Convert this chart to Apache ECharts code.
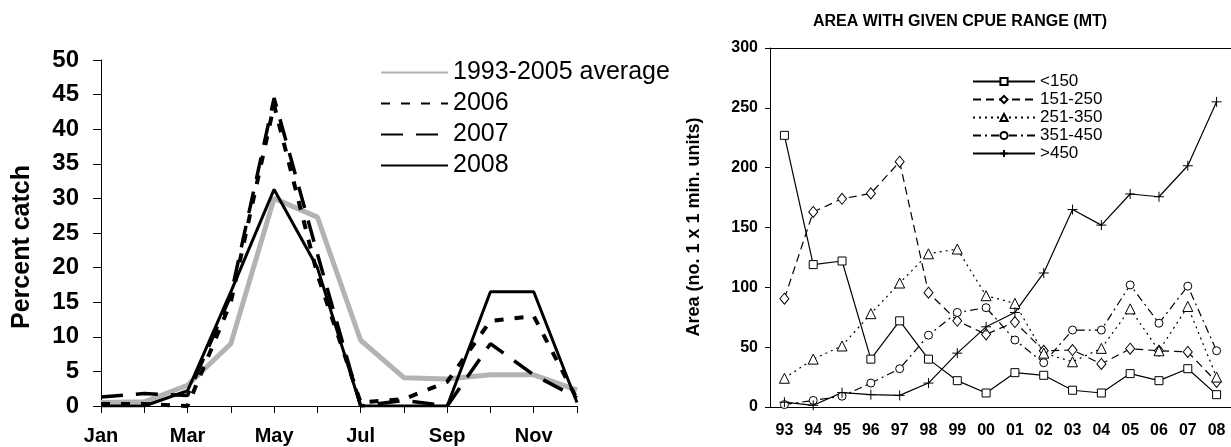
<!DOCTYPE html>
<html>
<head>
<meta charset="utf-8">
<script src="https://cdn.jsdelivr.net/npm/echarts@6/dist/echarts.min.js"></script>
<style>
  html, body { margin: 0; padding: 0; background: #fff; }
  #chart { width: 1231px; height: 447px; }
</style>
</head>
<body>
<div id="chart"></div>
<script>
// left panel: monthly percent catch
const months = ['Jan', 'Feb', 'Mar', 'Apr', 'May', 'Jun', 'Jul', 'Aug', 'Sep', 'Oct', 'Nov', 'Dec']
const avg9305 = [0.5, 0.6, 3.0, 9.0, 30.0, 27.3, 9.5, 4.1, 3.9, 4.5, 4.5, 2.3]
const y2006 = [0.3, 0.3, 0, 15, 43.5, 19, 0.5, 1.0, 3.5, 12.3, 13, 1.0]
const y2007 = [1.3, 1.8, 1.5, 16, 44.5, 22, 0, 0.8, 0, 9, 4.5, 1.2]
const y2008 = [0, 0, 2.2, 16.5, 31.3, 20, 0, 0, 0, 16.5, 16.5, 0.5]

// right panel: area with given CPUE range
const years = ['93', '94', '95', '96', '97', '98', '99', '00', '01', '02', '03', '04', '05', '06', '07', '08']
const lt150 = [227, 119, 122, 40, 72, 40, 22, 11.7, 28.7, 26.5, 14, 11.7, 27.9, 22, 32, 10.3]
const r151 = [90.5, 163, 174, 178.5, 205, 95.5, 72, 60.7, 71, 47, 47.6, 36, 48.7, 47, 46, 21]
const r251 = [24, 40, 51, 78, 103.6, 128, 132, 93, 86.6, 45, 37.8, 49, 82, 47, 84, 25]
const r351 = [2, 5.5, 9, 20, 32, 60, 79, 83, 56, 37, 64.3, 64.3, 102, 70, 101, 47]
const gt450 = [4, 1.4, 12, 10.3, 9.7, 20, 45, 67, 79, 112, 165, 152, 178, 175.7, 201.6, 255]

const FONT = 'Liberation Sans, Arial, sans-serif'
const plusPath = 'path://M5,0L5,10M0,5L10,5'

const chart = echarts.init(document.getElementById('chart'), null, { renderer: 'canvas' })

// helper for right panel series
function cpueSeries(name, data, symbol, size, dash) {
  return {
    name: name,
    type: 'line',
    xAxisIndex: 1,
    yAxisIndex: 1,
    data: data,
    symbol: symbol,
    symbolSize: size,
    showAllSymbol: true,
    lineStyle: { color: '#000', width: 1.2, type: dash },
    itemStyle: { color: '#fff', borderColor: '#000', borderWidth: 1 },
    emphasis: { disabled: true },
    z: 3
  }
}

const option = {
  animation: false,
  backgroundColor: '#fff',
  title: {
    text: 'AREA WITH GIVEN CPUE RANGE (MT)',
    left: 955,
    textAlign: 'center',
    top: 9,
    textStyle: { fontFamily: FONT, fontSize: 16, fontWeight: 'bold', color: '#000' }
  },
  graphic: [
    {
      type: 'text',
      x: 22,
      y: 247,
      rotation: Math.PI / 2,
      style: {
        text: 'Percent catch',
        font: 'bold 25px ' + FONT,
        fill: '#000',
        align: 'center',
        verticalAlign: 'middle'
      }
    },
    {
      type: 'text',
      x: 694,
      y: 227,
      rotation: Math.PI / 2,
      style: {
        text: 'Area (no. 1 x 1 min. units)',
        font: 'bold 18px ' + FONT,
        fill: '#000',
        align: 'center',
        verticalAlign: 'middle'
      }
    }
  ],
  legend: [
    {
      left: 380,
      top: 60,
      padding: 0,
      orient: 'vertical',
      itemWidth: 67,
      itemHeight: 14,
      itemGap: 6,
      itemStyle: { opacity: 0 },
      textStyle: { fontFamily: FONT, fontSize: 25, color: '#000' },
      data: ['1993-2005 average', '2006', '2007', '2008']
    },
    {
      left: 972,
      top: 73,
      padding: 0,
      orient: 'vertical',
      itemWidth: 62,
      itemHeight: 9,
      itemGap: 1,
      textStyle: { fontFamily: FONT, fontSize: 17, color: '#000' },
      data: ['<150', '151-250', '251-350', '351-450', '>450']
    }
  ],
  grid: [
    { left: 101, top: 60, right: 654, bottom: 41 },
    { left: 770, top: 48, right: -2, bottom: 40 }
  ],
  xAxis: [
    {
      gridIndex: 0,
      type: 'category',
      data: months,
      boundaryGap: false,
      axisLine: { lineStyle: { color: '#000', width: 1 } },
      axisTick: { interval: 0, length: 7, lineStyle: { color: '#000' } },
      axisLabel: { interval: 1, margin: 20, fontFamily: FONT, fontSize: 20, fontWeight: 'bold', color: '#000' },
      splitLine: { show: false }
    },
    {
      gridIndex: 1,
      type: 'category',
      data: years,
      boundaryGap: true,
      axisLine: { lineStyle: { color: '#000', width: 1 } },
      axisTick: { interval: 0, length: 5, lineStyle: { color: '#000' } },
      axisLabel: { interval: 0, margin: 16, fontFamily: FONT, fontSize: 16, fontWeight: 'bold', color: '#000' },
      splitLine: { show: false }
    },
    {
      // top border of the right plot
      gridIndex: 1,
      type: 'category',
      data: years,
      position: 'top',
      axisLine: { lineStyle: { color: '#000', width: 1 } },
      axisTick: { show: false },
      axisLabel: { show: false }
    }
  ],
  yAxis: [
    {
      gridIndex: 0,
      type: 'value',
      min: 0,
      max: 50,
      interval: 5,
      axisLine: { show: true, lineStyle: { color: '#000', width: 1 } },
      axisTick: { show: true, length: 8, lineStyle: { color: '#000' } },
      axisLabel: { margin: 22, fontFamily: FONT, fontSize: 24, fontWeight: 'bold', color: '#000' },
      splitLine: { show: false }
    },
    {
      gridIndex: 1,
      type: 'value',
      min: 0,
      max: 300,
      interval: 50,
      axisLine: { show: true, lineStyle: { color: '#000', width: 1 } },
      axisTick: { show: true, length: 5, lineStyle: { color: '#000' } },
      axisLabel: { margin: 12, fontFamily: FONT, fontSize: 16, fontWeight: 'bold', color: '#000' },
      splitLine: { show: false }
    }
  ],
  series: [
    {
      name: '1993-2005 average',
      type: 'line',
      data: avg9305,
      symbol: 'none',
      lineStyle: { color: '#b3b3b3', width: 5 },
      itemStyle: { color: '#b3b3b3' },
      emphasis: { disabled: true },
      z: 2
    },
    {
      name: '2006',
      type: 'line',
      data: y2006,
      symbol: 'none',
      lineStyle: { color: '#000', width: 4, type: [9, 11] },
      itemStyle: { color: '#000' },
      emphasis: { disabled: true },
      z: 3
    },
    {
      name: '2007',
      type: 'line',
      data: y2007,
      symbol: 'none',
      lineStyle: { color: '#000', width: 3.5, type: [22, 13] },
      itemStyle: { color: '#000' },
      emphasis: { disabled: true },
      z: 3
    },
    {
      name: '2008',
      type: 'line',
      data: y2008,
      symbol: 'none',
      lineStyle: { color: '#000', width: 3 },
      itemStyle: { color: '#000' },
      emphasis: { disabled: true },
      z: 4
    },
    cpueSeries('<150', lt150, 'rect', 8, 'solid'),
    cpueSeries('151-250', r151, 'diamond', [9, 11], [8, 5]),
    cpueSeries('251-350', r251, 'triangle', 10, [2, 4]),
    cpueSeries('351-450', r351, 'circle', 8, [8, 4, 2, 4]),
    cpueSeries('>450', gt450, plusPath, 10, 'solid')
  ]
}

chart.setOption(option)
</script>
</body>
</html>
